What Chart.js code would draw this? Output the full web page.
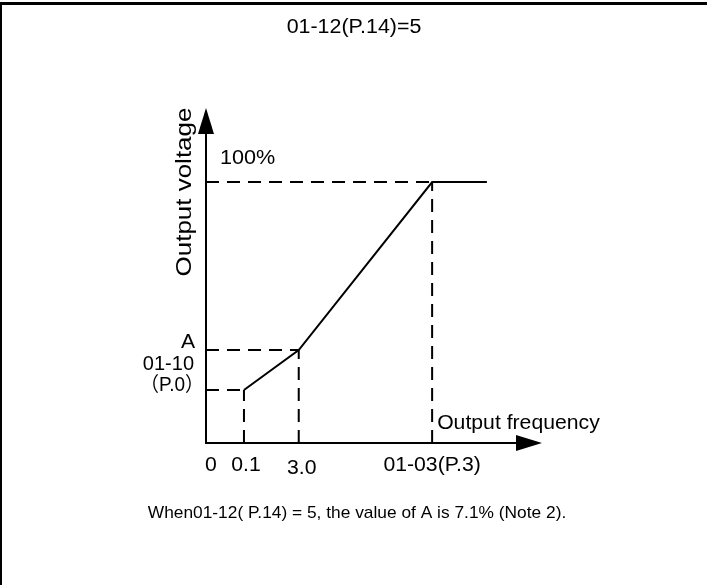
<!DOCTYPE html>
<html>
<head>
<meta charset="utf-8">
<script src="https://cdn.jsdelivr.net/npm/chart.js@4"></script>
<style>
  body { margin: 0; background: #fff; }
  canvas { display: block; }
</style>
</head>
<body>
<canvas id="vf-chart" width="707" height="585"></canvas>
<script>
    // schematic positions (x in arbitrary frequency units, y in % of max voltage)
    var freqTickLabels = ['0', '0.1', '3.0', '01-03(P.3)'];
    var freqTickValues = [0, 1.13, 2.76, 6.73];
    var voltTickLabels = ['01-10', 'A', '100%'];
    var voltTickValues = [20.3, 35.6, 100];

    var curveFreq = [1.13, 2.76, 6.73, 8.36];
    var curveVolt = [20.3, 35.6, 100, 100];

    var titleText = '01-12(P.14)=5';
    var noteText = 'When01-12( P.14) = 5, the value of A is 7.1% (Note 2).';
    var xAxisName = 'Output frequency';
    var yAxisName = 'Output voltage';

    var FONT = '"Liberation Sans", Arial, "Noto Sans CJK SC", sans-serif';

    var curvePoints = curveFreq.map(function(f, i) {
        return {x: f, y: curveVolt[i]};
    });

    // dashed guide lines from each corner point to both axes
    var guideSets = [];
    [[1, 0], [2, 1], [3, 2]].forEach(function(p) {
        var fx = freqTickValues[p[0]];
        var vy = voltTickValues[p[1]];
        guideSets.push({
            data: [{x: 0, y: vy}, {x: fx, y: vy}],
            borderColor: '#000', borderWidth: 2, borderDash: [13, 8],
            pointRadius: 0, showLine: true, fill: false
        });
        guideSets.push({
            data: [{x: fx, y: 0}, {x: fx, y: vy}],
            borderColor: '#000', borderWidth: 2, borderDash: [13, 8],
            pointRadius: 0, showLine: true, fill: false
        });
    });

    // text in the source is a bit wider than plain Arial, so stretch it sideways
    function stretchText(ctx, text, x, y, align, size, sx) {
        ctx.save();
        ctx.font = size + 'px ' + FONT;
        ctx.textAlign = align;
        ctx.textBaseline = 'middle';
        ctx.translate(x, y);
        ctx.scale(sx, 1);
        ctx.fillText(text, 0, 0);
        ctx.restore();
    }

    var decorPlugin = {
        id: 'decor',
        afterDraw: function(chart) {
            var ctx = chart.ctx;
            var xs = chart.scales.x, ys = chart.scales.y;
            var area = chart.chartArea;
            var x0 = xs.getPixelForValue(0), y0 = ys.getPixelForValue(0);
            ctx.save();

            // frame lines on top and left
            ctx.fillStyle = '#000';
            ctx.fillRect(0, 2, chart.width, 3);
            ctx.fillRect(0, 2, 2, chart.height);

            // axes with arrow heads
            ctx.strokeStyle = '#000';
            ctx.lineWidth = 2;
            ctx.beginPath();
            ctx.moveTo(x0, y0);
            ctx.lineTo(x0, area.top + 24);
            ctx.moveTo(x0 - 1, y0);
            ctx.lineTo(area.right - 24, y0);
            ctx.stroke();
            ctx.beginPath();
            ctx.moveTo(x0, area.top);
            ctx.lineTo(x0 - 8, area.top + 26);
            ctx.lineTo(x0 + 8, area.top + 26);
            ctx.closePath();
            ctx.fill();
            ctx.beginPath();
            ctx.moveTo(area.right, y0);
            ctx.lineTo(area.right - 26, y0 - 8);
            ctx.lineTo(area.right - 26, y0 + 8);
            ctx.closePath();
            ctx.fill();

            // frequency tick labels
            var freqOffsets = [5, 2, 3, 0];
            var freqDy = [22, 22, 25, 22];
            freqTickLabels.forEach(function(t, i) {
                stretchText(ctx, t, xs.getPixelForValue(freqTickValues[i]) + freqOffsets[i],
                    y0 + freqDy[i], 'center', 20, 1.06);
            });

            // voltage labels
            var yA = ys.getPixelForValue(voltTickValues[1]);
            var yP0 = ys.getPixelForValue(voltTickValues[0]);
            var y100 = ys.getPixelForValue(voltTickValues[2]);
            stretchText(ctx, voltTickLabels[1], x0 - 18, yA - 8, 'center', 20, 1.06);
            stretchText(ctx, voltTickLabels[0], x0 - 12, yP0 - 26, 'right', 20, 1.0);
            stretchText(ctx, '（P.0）', x0 - 2, yP0 - 5, 'right', 20, 0.95);
            stretchText(ctx, voltTickLabels[2], x0 + 14, y100 - 24, 'left', 20, 1.08);

            // axis names
            stretchText(ctx, xAxisName, xs.getPixelForValue(freqTickValues[3]) + 5, y0 - 20,
                'left', 20, 1.06);
            ctx.save();
            ctx.translate(x0 - 21, (area.top + yP0) / 2 - 57);
            ctx.rotate(-Math.PI / 2);
            stretchText(ctx, yAxisName, 0, 0, 'center', 22, 1.18);
            ctx.restore();

            // title and note
            stretchText(ctx, titleText, 354, 27, 'center', 20, 1.07);
            stretchText(ctx, noteText, 357, 513, 'center', 17, 1.02);
            ctx.restore();
        }
    };

    var configVf = {
        type: 'scatter',
        data: {
            datasets: [{
                data: curvePoints,
                borderColor: '#000',
                borderWidth: 2,
                pointRadius: 0,
                showLine: true,
                fill: false
            }].concat(guideSets)
        },
        options: {
            responsive: false,
            animation: false,
            layout: {
                padding: {left: 206, right: 165, top: 108, bottom: 142}
            },
            scales: {
                x: {type: 'linear', min: 0, max: 10, display: false},
                y: {type: 'linear', min: 0, max: 128.4, display: false}
            },
            plugins: {
                legend: {display: false},
                tooltip: {enabled: false}
            }
        },
        plugins: [decorPlugin]
    };

    window.onload = function() {
        var ctxVf = document.getElementById('vf-chart').getContext('2d');
        window.myVf = new Chart(ctxVf, configVf);
    };
</script>
</body>
</html>
